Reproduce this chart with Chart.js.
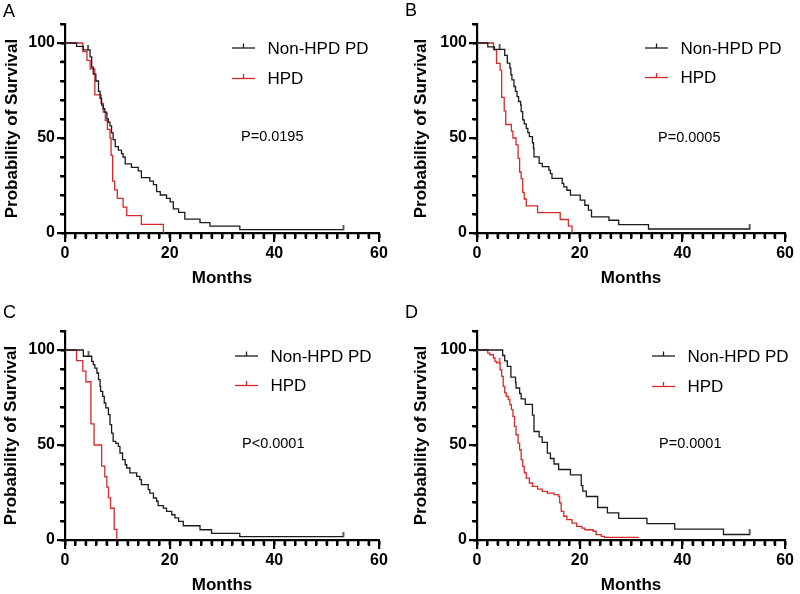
<!DOCTYPE html>
<html>
<head>
<meta charset="utf-8">
<title>Kaplan-Meier curves</title>
<script src="https://cdn.jsdelivr.net/npm/chart.js@4.4.1/dist/chart.umd.min.js"></script>
<style>
  body { margin: 0; background: #fff; }
  .panel { position: absolute; width: 400px; height: 297px; }
</style>
</head>
<body>
<div class="panel" style="left:0;top:0"><canvas id="kmA" width="400" height="297"></canvas></div>
<div class="panel" style="left:400px;top:0"><canvas id="kmB" width="400" height="297"></canvas></div>
<div class="panel" style="left:0;top:297px"><canvas id="kmC" width="400" height="297"></canvas></div>
<div class="panel" style="left:400px;top:297px"><canvas id="kmD" width="400" height="297"></canvas></div>
<script>
// axis ticks and labels
const monthTicks = [0, 20, 40, 60];
const survivalTicks = [0, 50, 100];
const groupNames = ['Non-HPD PD', 'HPD'];
const panelLetters = ['A', 'B', 'C', 'D'];
const pValues = ['P=0.0195', 'P=0.0005', 'P<0.0001', 'P=0.0001'];

// panel A
const nonHpdMonthsA = [2.2, 3.5, 4.8, 5.1, 5.4, 5.9, 6.4, 6.7, 7.0, 7.3, 7.6, 8.0, 8.3, 8.6, 8.9, 9.2, 9.6, 10.2, 10.8, 11.1, 11.5, 12.7, 14.0, 14.6, 16.2, 16.9, 17.5, 18.2, 19.4, 20.1, 20.7, 21.7, 22.9, 25.8, 27.7, 33.4, 53.2];
const nonHpdSurvA   = [98.2, 96.4, 92.7, 87.3, 83.6, 80.0, 74.5, 70.9, 67.3, 65.5, 63.6, 60.0, 58.2, 56.4, 52.7, 49.1, 45.5, 43.6, 41.8, 40.0, 36.4, 34.5, 32.7, 29.1, 27.3, 25.5, 21.8, 20.0, 18.2, 16.4, 12.7, 10.9, 7.3, 5.5, 3.6, 1.8, 1.8];
const hpdMonthsA = [3.4, 4.2, 4.8, 5.7, 6.9, 7.3, 7.7, 8.1, 8.6, 8.8, 9.1, 9.5, 10.0, 11.1, 11.8, 14.6, 18.8];
const hpdSurvA   = [95.5, 90.9, 86.4, 72.7, 68.2, 63.6, 59.1, 54.5, 50.0, 40.9, 27.3, 22.7, 18.2, 13.6, 9.1, 4.5, 0];
const nonHpdCensorA = [4.4, 53.2];
const hpdCensorA = [];

// panel B
const nonHpdMonthsB = [2.1, 3.4, 5.4, 5.9, 6.4, 6.6, 6.8, 7.2, 7.5, 7.8, 8.1, 8.5, 8.6, 8.9, 9.2, 9.6, 9.9, 10.2, 10.8, 11.0, 11.1, 12.1, 12.7, 14.0, 14.3, 14.6, 16.6, 16.9, 17.5, 18.2, 20.1, 21.0, 21.7, 22.3, 25.7, 27.6, 33.4, 53.1];
const nonHpdSurvB   = [98.0, 96.6, 93.5, 89.4, 86.8, 83.3, 80.6, 77.1, 74.5, 71.8, 69.2, 67.4, 63.9, 59.5, 57.4, 55.1, 52.8, 50.7, 47.5, 44.5, 40.1, 36.6, 34.9, 33.1, 31.3, 28.7, 26.1, 24.3, 22.5, 19.9, 17.3, 14.6, 12.0, 8.5, 6.7, 4.4, 2.1, 2.1];
const hpdMonthsB = [3.2, 3.8, 4.5, 4.8, 5.3, 5.6, 6.7, 7.0, 7.6, 8.0, 8.3, 8.6, 8.9, 9.2, 9.6, 11.8, 16.2, 17.8, 18.5];
const hpdSurvB   = [96.4, 89.3, 85.7, 71.4, 64.3, 57.1, 53.6, 50.0, 46.4, 39.3, 32.1, 28.6, 21.4, 17.9, 14.3, 10.7, 7.1, 3.6, 0];
const nonHpdCensorB = [4.4, 53.1];
const hpdCensorB = [];

// panel C
const nonHpdMonthsC = [3.5, 5.1, 5.4, 5.7, 6.1, 6.4, 6.7, 6.8, 7.2, 7.5, 7.8, 8.3, 8.6, 8.9, 9.2, 9.7, 10.2, 10.5, 11.0, 11.5, 11.8, 12.4, 13.7, 14.3, 14.6, 15.9, 16.2, 16.9, 17.5, 17.8, 18.8, 19.4, 20.4, 21.0, 21.7, 22.6, 25.8, 28.0, 33.4, 53.2];
const nonHpdSurvC   = [96.7, 94.0, 92.3, 90.5, 87.9, 84.4, 80.9, 78.2, 75.6, 72.1, 69.5, 66.0, 60.7, 56.3, 51.9, 50.9, 49.3, 45.8, 42.3, 39.6, 37.9, 35.3, 33.5, 31.8, 29.1, 26.5, 24.7, 22.1, 20.4, 18.1, 16.8, 15.1, 13.3, 11.6, 9.8, 7.5, 5.4, 3.5, 1.8, 1.8];
const hpdMonthsC = [2.2, 3.4, 4.0, 4.95, 5.55, 7.0, 7.6, 8.0, 8.3, 8.7, 9.4, 9.9];
const hpdSurvC   = [94.4, 88.9, 83.3, 61.1, 50.0, 38.9, 33.3, 27.8, 22.2, 16.7, 5.6, 0];
const nonHpdCensorC = [4.5, 53.2];
const hpdCensorC = [];

// panel D
const nonHpdMonthsD = [5.0, 5.4, 5.9, 6.6, 7.5, 7.6, 8.3, 8.6, 9.4, 10.8, 11.1, 12.1, 12.7, 13.7, 14.3, 15.0, 15.9, 18.2, 20.3, 20.6, 21.3, 23.5, 25.4, 27.6, 33.1, 38.5, 48.0, 53.1];
const nonHpdSurvD   = [97.1, 94.3, 91.4, 85.7, 82.9, 80.0, 77.1, 74.3, 71.4, 65.7, 57.1, 54.3, 51.4, 45.7, 42.9, 40.0, 37.1, 34.3, 28.6, 25.7, 22.9, 17.1, 14.3, 11.4, 8.6, 5.7, 2.9, 2.9];
const hpdMonthsD = [2.1, 2.5, 3.2, 3.5, 3.8, 4.5, 4.8, 5.1, 5.4, 5.7, 6.1, 6.4, 6.7, 7.0, 7.3, 7.6, 8.0, 8.3, 8.6, 8.9, 9.2, 9.6, 10.2, 10.8, 11.8, 12.7, 13.7, 15.0, 15.9, 16.1, 16.4, 16.9, 17.5, 18.5, 19.4, 20.4, 21.0, 22.6, 23.2, 24.2, 24.8, 31.5];
const hpdSurvD   = [98.4, 97.5, 95.8, 94.0, 93.2, 89.6, 86.1, 80.9, 77.4, 75.6, 73.9, 71.2, 68.6, 65.1, 59.8, 55.4, 51.0, 47.5, 42.3, 38.8, 35.3, 32.6, 30.0, 28.2, 26.8, 25.6, 24.7, 23.9, 23.0, 19.5, 15.1, 12.5, 10.7, 8.9, 7.2, 6.3, 5.4, 4.6, 2.8, 1.9, 1.4, 1.4];
const nonHpdCensorD = [53.1];
const hpdCensorD = [4.4];

const BLACK = '#1b1b1b';
const RED = '#d32a2a';
const FONT = 'Arial, "Liberation Sans", Helvetica, sans-serif';

Chart.defaults.font.family = FONT;
Chart.defaults.color = '#000';

// step data starting at 100% at month 0
function kmPoints(months, surv) {
  const pts = [{ x: 0, y: 100 }];
  months.forEach((m, i) => pts.push({ x: m, y: surv[i] }));
  return pts;
}

function survAt(months, surv, t) {
  let s = 100;
  months.forEach((m, i) => { if (m <= t) s = surv[i]; });
  return s;
}

// small upward tick used as censor mark
function censorMark(color) {
  const c = document.createElement('canvas');
  c.width = 4; c.height = 10;
  const g = c.getContext('2d');
  g.fillStyle = color;
  g.fillRect(1.3, 0, 1.4, 5.5);
  return c;
}

const panels = [
  { id: 'kmA', k: 0, nonM: nonHpdMonthsA, nonS: nonHpdSurvA, hpdM: hpdMonthsA, hpdS: hpdSurvA, nonC: nonHpdCensorA, hpdC: hpdCensorA,
    box: { left: 65, right: 379, top: 24, bottom: 233 }, yPad: 2, xPad: 10.5,
    legend: { x: 232, y: 48, gap: 30.5 }, pPos: { x: 241, y: 137 }, letterPos: { x: 3, y: 12 } },
  { id: 'kmB', k: 1, nonM: nonHpdMonthsB, nonS: nonHpdSurvB, hpdM: hpdMonthsB, hpdS: hpdSurvB, nonC: nonHpdCensorB, hpdC: hpdCensorB,
    box: { left: 77, right: 391, top: 24, bottom: 233 }, yPad: 11, xPad: 10.5,
    legend: { x: 245, y: 48, gap: 29.5 }, pPos: { x: 258, y: 138 }, letterPos: { x: 5, y: 11 } },
  { id: 'kmC', k: 2, nonM: nonHpdMonthsC, nonS: nonHpdSurvC, hpdM: hpdMonthsC, hpdS: hpdSurvC, nonC: nonHpdCensorC, hpdC: hpdCensorC,
    box: { left: 65, right: 379, top: 34, bottom: 243 }, yPad: 1, xPad: 0.5,
    legend: { x: 235, y: 59, gap: 29.5 }, pPos: { x: 242, y: 147 }, letterPos: { x: 3, y: 16 } },
  { id: 'kmD', k: 3, nonM: nonHpdMonthsD, nonS: nonHpdSurvD, hpdM: hpdMonthsD, hpdS: hpdSurvD, nonC: nonHpdCensorD, hpdC: hpdCensorD,
    box: { left: 77, right: 391, top: 34, bottom: 243 }, yPad: 11, xPad: 0.5,
    legend: { x: 252, y: 59, gap: 30.5 }, pPos: { x: 259, y: 147 }, letterPos: { x: 5, y: 16 } }
];

function decorPlugin(p) {
  return {
    id: 'kmDecor',
    afterDraw(chart) {
      const { ctx, chartArea, scales } = chart;
      ctx.save();
      // axis ticks: minor every 2 months / 10 %, major at labelled values
      ctx.fillStyle = '#000';
      scales.x.ticks.forEach(t => {
        const px = Math.round(scales.x.getPixelForValue(t.value));
        const len = monthTicks.includes(t.value) ? 9 : 6;
        ctx.fillRect(px - 1, chartArea.bottom, 2.2, len);
      });
      scales.y.ticks.forEach(t => {
        const py = Math.round(scales.y.getPixelForValue(t.value));
        const len = survivalTicks.includes(t.value) ? 8 : 5;
        ctx.fillRect(chartArea.left - len, py - 1, len, 2.2);
      });
      // legend
      [BLACK, RED].forEach((col, i) => {
        const y = p.legend.y + i * p.legend.gap;
        const x = p.legend.x;
        ctx.strokeStyle = col;
        ctx.lineWidth = 1.3;
        ctx.beginPath(); ctx.moveTo(x, y); ctx.lineTo(x + 23, y); ctx.stroke();
        ctx.beginPath(); ctx.moveTo(x + 11.5, y); ctx.lineTo(x + 11.5, y - 4.5); ctx.stroke();
        ctx.fillStyle = '#000';
        ctx.font = '17px ' + FONT;
        ctx.textBaseline = 'middle';
        ctx.textAlign = 'left';
        ctx.fillText(groupNames[i], x + 35.5, y + 1);
      });
      // p value
      ctx.font = '14.5px ' + FONT;
      ctx.fillText(pValues[p.k], p.pPos.x, p.pPos.y);
      // panel letter
      ctx.font = '18px ' + FONT;
      ctx.fillText(panelLetters[p.k], p.letterPos.x, p.letterPos.y);
      ctx.restore();
    }
  };
}

panels.forEach(p => {
  const censorPts = (months, surv, times) => times.map(t => ({ x: t, y: survAt(months, surv, t) }));
  new Chart(document.getElementById(p.id), {
    type: 'line',
    data: {
      datasets: [
        { label: groupNames[0], data: kmPoints(p.nonM, p.nonS), borderColor: BLACK, borderWidth: 1.3, stepped: true, pointRadius: 0, fill: false },
        { label: groupNames[1], data: kmPoints(p.hpdM, p.hpdS), borderColor: RED, borderWidth: 1.3, stepped: true, pointRadius: 0, fill: false },
        { type: 'scatter', data: censorPts(p.nonM, p.nonS, p.nonC), pointStyle: censorMark(BLACK), pointRadius: 5, showLine: false },
        { type: 'scatter', data: censorPts(p.hpdM, p.hpdS, p.hpdC), pointStyle: censorMark(RED), pointRadius: 5, showLine: false }
      ]
    },
    options: {
      responsive: false,
      animation: false,
      events: [],
      layout: { padding: { left: 0, right: 400 - p.box.right, top: p.box.top, bottom: 0 } },
      plugins: { legend: { display: false }, title: { display: false }, tooltip: { enabled: false } },
      scales: {
        x: {
          type: 'linear', min: 0, max: 60,
          ticks: { stepSize: 2, autoSkip: false, maxRotation: 0, padding: 6, font: { size: 16, weight: 'bold' },
            callback: v => monthTicks.includes(v) ? v : '' },
          grid: { display: true, drawOnChartArea: false, drawTicks: true, tickLength: 5, tickWidth: 2, tickColor: '#000', color: '#000' },
          border: { color: '#000', width: 2.2 },
          title: { display: true, text: 'Months', font: { size: 17, weight: 'bold', lineHeight: 1 }, padding: { top: 0, bottom: p.xPad } },
          afterFit: s => { s.height = 297 - p.box.bottom; }
        },
        y: {
          type: 'linear', min: 0, max: 110,
          ticks: { stepSize: 10, autoSkip: false, padding: 6, font: { size: 16, weight: 'bold' },
            callback: v => survivalTicks.includes(v) ? v : '' },
          grid: { display: true, drawOnChartArea: false, drawTicks: true, tickLength: 4, tickWidth: 2, tickColor: '#000', color: '#000' },
          border: { color: '#000', width: 2.2 },
          title: { display: true, text: 'Probability of Survival', font: { size: 17, weight: 'bold' }, padding: { top: p.yPad, bottom: 0 } },
          afterFit: s => { s.width = p.box.left; }
        }
      }
    },
    plugins: [decorPlugin(p)]
  });
});
</script>
</body>
</html>
